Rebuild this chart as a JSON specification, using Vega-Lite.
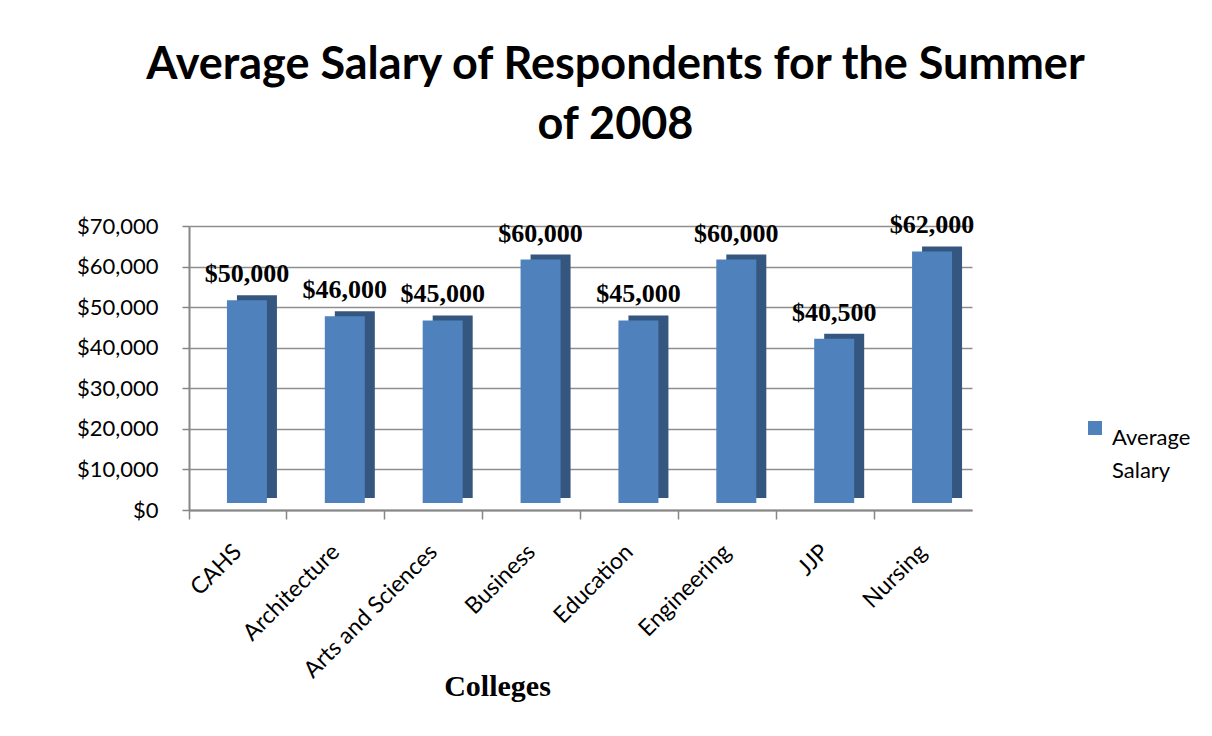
{
  "$schema": "https://vega.github.io/schema/vega-lite/v6.json",
  "autosize": "none",
  "width": 783,
  "height": 284,
  "padding": {"left": 189, "top": 226, "right": 240, "bottom": 226},
  "background": "white",
  "config": {"view": {"stroke": null}, "style": {"guide-label": {"lineHeight": 33}}},
  "title": {
    "text": ["Average Salary of Respondents for the Summer", "of 2008"],
    "font": "Lato",
    "fontSize": 45,
    "fontWeight": "bold",
    "color": "black",
    "lineHeight": 60,
    "anchor": "middle",
    "frame": "group",
    "dx": 35,
    "baseline": "alphabetic",
    "offset": 28
  },
  "data": {
    "values": [
      {"college": "CAHS", "salary": 50000},
      {"college": "Architecture", "salary": 46000},
      {"college": "Arts and Sciences", "salary": 45000},
      {"college": "Business", "salary": 60000},
      {"college": "Education", "salary": 45000},
      {"college": "Engineering", "salary": 60000},
      {"college": "JJP", "salary": 40500},
      {"college": "Nursing", "salary": 62000}
    ]
  },
  "encoding": {
    "x": {
      "field": "college",
      "type": "nominal",
      "sort": null,
      "scale": {"paddingInner": 0, "paddingOuter": 0},
      "axis": {
        "title": "Colleges",
        "titleFont": "Liberation Serif",
        "titleFontSize": 30,
        "titleFontWeight": "bold",
        "titleColor": "black",
        "titleX": 308,
        "titleY": 185,
        "titleBaseline": "alphabetic",
        "labelAngle": -45,
        "labelAlign": "right",
        "labelBaseline": "middle",
        "labelFont": "Lato",
        "labelFontSize": 23,
        "labelColor": "black",
        "labelPadding": 29,
        "bandPosition": 0,
        "ticks": true,
        "tickSize": 9,
        "tickWidth": 1.5,
        "tickColor": "#868686",
        "domainColor": "#868686",
        "domainWidth": 2,
        "grid": false
      }
    },
    "y": {
      "field": "salary",
      "type": "quantitative",
      "scale": {"domain": [0, 70000], "nice": false},
      "axis": {
        "title": null,
        "values": [0, 10000, 20000, 30000, 40000, 50000, 60000, 70000],
        "format": "$,.0f",
        "labelFont": "Lato",
        "labelFontSize": 22,
        "labelColor": "black",
        "labelPadding": 24,
        "tickSize": 7,
        "tickWidth": 1.5,
        "tickColor": "#868686",
        "domainColor": "#868686",
        "domainWidth": 2,
        "grid": true,
        "gridColor": "#8e8e8e",
        "gridWidth": 1.5
      }
    }
  },
  "layer": [
    {
      "mark": {"type": "bar", "width": 40, "color": "#35577F", "xOffset": 19, "yOffset": -12, "y2Offset": -12},
      "encoding": {}
    },
    {
      "mark": {"type": "bar", "width": 40, "xOffset": 9, "yOffset": -7, "y2Offset": -7},
      "encoding": {
        "color": {
          "datum": "Average Salary",
          "scale": {"range": ["#4F81BD"]},
          "legend": {
            "title": null,
            "orient": "none",
            "legendX": 895,
            "legendY": 191,
            "symbolType": "square",
            "symbolSize": 196,
            "symbolStrokeWidth": 0,
            "labelFont": "Lato",
            "labelFontSize": 22,
            "labelColor": "black",
            "labelOffset": 6,
            "labelBaseline": "top",
            "labelExpr": "['Average', 'Salary']"
          }
        }
      }
    },
    {
      "mark": {"type": "text", "font": "Liberation Serif", "fontSize": 26, "fontWeight": "bold", "color": "black", "baseline": "alphabetic", "xOffset": 9, "dy": -25},
      "encoding": {
        "text": {"field": "salary", "type": "quantitative", "format": "$,.0f"}
      }
    }
  ]
}
